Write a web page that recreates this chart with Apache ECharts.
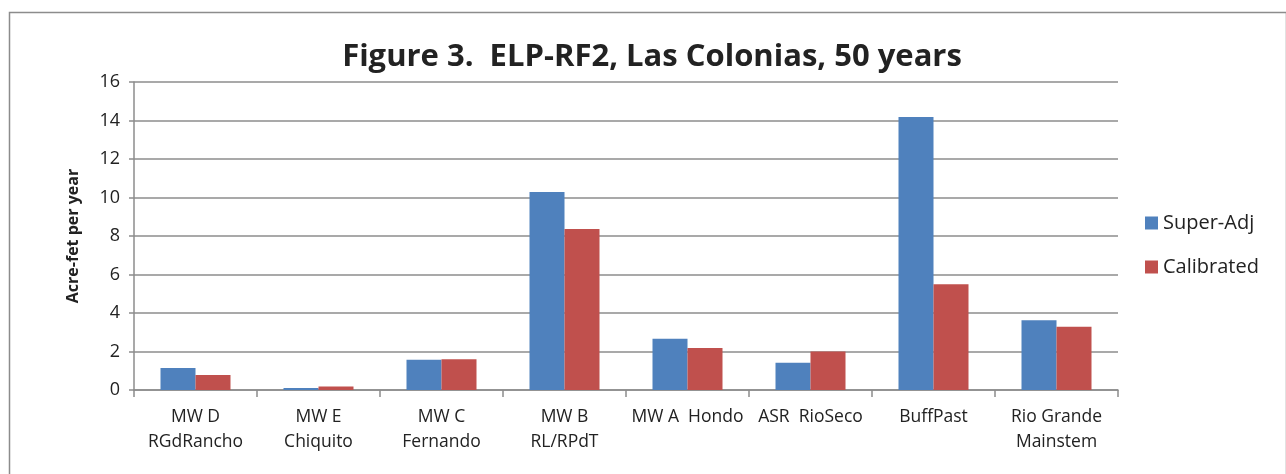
<!DOCTYPE html>
<html>
<head>
<meta charset="utf-8">
<script src="https://cdn.jsdelivr.net/npm/echarts@6/dist/echarts.min.js"></script>
<style>
html,body{margin:0;padding:0;background:#fff;}
#chart{width:1286px;height:474px;}
</style>
</head>
<body>
<div id="chart"></div>
<script>
const categories = ['MW D\nRGdRancho', 'MW E\nChiquito', 'MW C\nFernando', 'MW B\nRL/RPdT', 'MW A  Hondo', 'ASR  RioSeco', 'BuffPast', 'Rio Grande\nMainstem'];
const superAdj = [1.14, 0.1, 1.57, 10.29, 2.66, 1.41, 14.18, 3.62];
const calibrated = [0.78, 0.18, 1.6, 8.37, 2.18, 2.0, 5.49, 3.29];
const seriesNames = ['Super-Adj', 'Calibrated'];

const chart = echarts.init(document.getElementById('chart'));
const font = '"Open Sans", "Liberation Sans", sans-serif';
chart.setOption({
  animation: false,
  title: {
    text: 'Figure 3.  ELP-RF2, Las Colonias, 50 years',
    left: 647, top: 37, textAlign: 'center',
    textStyle: {fontFamily: font, fontWeight: 'bold', fontSize: 31, color: '#222'}
  },
  graphic: [{
    type: 'rect', left: 7, top: 10, z: -1,
    shape: {width: 1277, height: 470},
    style: {fill: 'none', stroke: '#8c8c8c', lineWidth: 1.5}
  }],
  legend: {
    orient: 'vertical', left: 1140, top: 208,
    itemWidth: 13, itemHeight: 13, icon: 'rect', itemGap: 24,
    textStyle: {fontFamily: font, fontSize: 20, color: '#222'},
    data: seriesNames
  },
  grid: {left: 134, right: 168, top: 82, bottom: 84},
  xAxis: {
    type: 'category', data: categories,
    axisLine: {lineStyle: {color: '#8c8c8c', width: 1.5}},
    axisTick: {show: true, length: 7, alignWithLabel: false, lineStyle: {color: '#8c8c8c', width: 1.5}},
    axisLabel: {fontFamily: font, fontSize: 17.5, color: '#222', lineHeight: 25, margin: 15, interval: 0}
  },
  yAxis: {
    type: 'value', min: 0, max: 16, interval: 2,
    name: 'Acre-fet per year', nameLocation: 'middle', nameGap: 53,
    nameTextStyle: {fontFamily: font, fontWeight: 'bold', fontSize: 16, color: '#222'},
    axisLine: {show: true, lineStyle: {color: '#8c8c8c', width: 1.5}},
    axisTick: {show: true, length: 5, lineStyle: {color: '#8c8c8c', width: 1.5}},
    axisLabel: {fontFamily: font, fontSize: 18, color: '#222', margin: 14},
    splitLine: {lineStyle: {color: '#8c8c8c', width: 1.5}}
  },
  series: [
    {name: seriesNames[0], type: 'bar', data: superAdj, barWidth: 35, barGap: '0%',
     itemStyle: {color: '#4f81bd'}},
    {name: seriesNames[1], type: 'bar', data: calibrated, barWidth: 35, barGap: '0%',
     itemStyle: {color: '#c0504d'}}
  ]
});
</script>
</body>
</html>
